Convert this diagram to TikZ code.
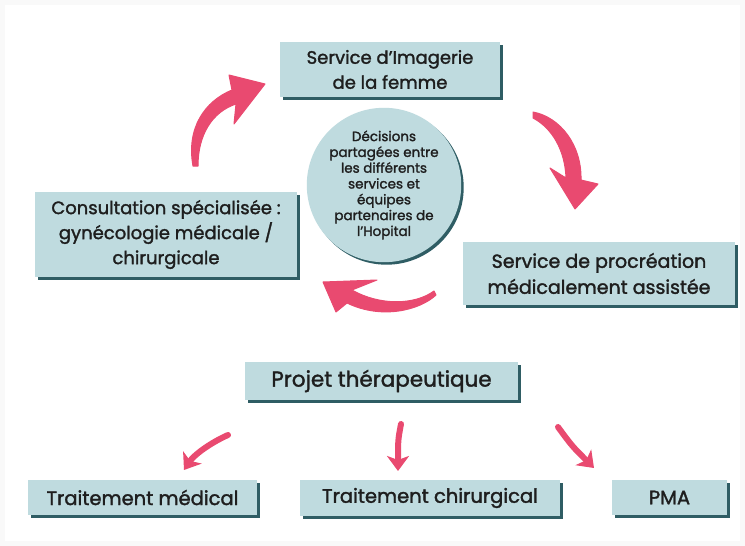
\documentclass[tikz,border=0pt]{standalone}
\usepackage{fontspec}
\setmainfont{Poppins}[FakeBold=1.6]
\usetikzlibrary{arrows.meta,shadows}
\definecolor{boxfill}{HTML}{BFDBDF}
\definecolor{boxshade}{HTML}{2F5D64}
\definecolor{pinkarrow}{HTML}{E94A70}
\definecolor{txt}{HTML}{1E1E1E}
\tikzset{
  stepbox/.style={fill=boxfill, draw=none, inner sep=0pt, align=center, text=txt,
    font=\fontsize{18}{25}\selectfont,
    drop shadow={shadow xshift=2.5pt, shadow yshift=-2.5pt, fill=boxshade, opacity=1}},
  brush/.style={fill=pinkarrow, draw=pinkarrow, line width=1pt, line join=round},
  smallarrow/.style={draw=pinkarrow, line width=6pt, line cap=round,
    -{Stealth[length=15pt,width=22pt,inset=4pt]}},
}
\begin{document}
\begin{tikzpicture}[x=1pt,y=-1pt]
\useasboundingbox (0,0) rectangle (745,546);
\fill[white!95!gray] (0,0) rectangle (745,546);
\fill[white] (5,5) rectangle (740,541);

% nodes
\node[stepbox, minimum width=220pt, minimum height=55pt] (img) at (390,69.5) {Service d'Imagerie\\de la femme};
\node[stepbox, minimum width=262pt, minimum height=85pt] (consult) at (166,234.5) {Consultation spécialisée :\\gynécologie médicale /\\chirurgicale};
\node[stepbox, minimum width=272pt, minimum height=63pt, font=\fontsize{19}{26}\selectfont] (pma1) at (599,273.5) {Service de procréation\\médicalement assistée};
\node[circle, fill=boxfill, minimum size=108pt, inner sep=0pt, align=center, text=txt,
  font=\fontsize{13.5}{15.8}\selectfont,
  drop shadow={shadow xshift=2.5pt, shadow yshift=-2.5pt, fill=boxshade, opacity=1}] (dec) at (384,185)
  {Décisions\\partagées entre\\les différents\\services et\\équipes\\partenaires de\\l'Hopital};
\node[stepbox, minimum width=273pt, minimum height=38pt, font=\fontsize{21.5}{26}\selectfont] (projet) at (381.5,381) {Projet thérapeutique};
\node[stepbox, minimum width=229pt, minimum height=35pt, font=\fontsize{19.5}{24}\selectfont] (tmed) at (142.5,497.5) {Traitement médical};
\node[stepbox, minimum width=260pt, minimum height=36pt, font=\fontsize{19.5}{24}\selectfont] (tchir) at (430,498) {Traitement chirurgical};
\node[stepbox, minimum width=115pt, minimum height=35pt, font=\fontsize{19.5}{24}\selectfont] (pma) at (669.5,497.5) {PMA};

% big brush arrows (decorative, filled outlines)
\coordinate (a1s) at (193,166);
\coordinate (a1e) at (265,84);
\fill[brush] (a1s) .. controls (186,128) and (205,101) .. (232,90)
  -- (229,75) -- (a1e) -- (234,124) -- (236,104)
  .. controls (212,112) and (198,135) .. (198,166) -- cycle;

\coordinate (a2s) at (533,112);
\coordinate (a2e) at (575,209);
\fill[brush] (a2s) .. controls (560,117) and (582,145) .. (581,180)
  -- (598,184) -- (a2e) -- (550,168) -- (566,178)
  .. controls (565,150) and (552,128) .. (533,118) -- cycle;

\coordinate (a3s) at (434,291);
\coordinate (a3e) at (323,282);
\fill[brush] (a3s) .. controls (415,305) and (380,306) .. (352,290)
  -- (377,280) -- (a3e) -- (336,312) -- (347,303)
  .. controls (382,320) and (420,310) .. (436,295) -- cycle;

% small arrows
\coordinate (a4s) at (228,435);
\coordinate (a4e) at (184,470);
\coordinate (a5s) at (401,424);
\coordinate (a5e) at (398,471);
\coordinate (a6s) at (558,427);
\coordinate (a6e) at (594,468);
\draw[smallarrow] (a4s) .. controls (210,443) and (194,455) .. (a4e);
\draw[smallarrow] (a5s) .. controls (398,440) .. (a5e);
\draw[smallarrow] (a6s) .. controls (572,446) .. (a6e);
\end{tikzpicture}
\end{document}
